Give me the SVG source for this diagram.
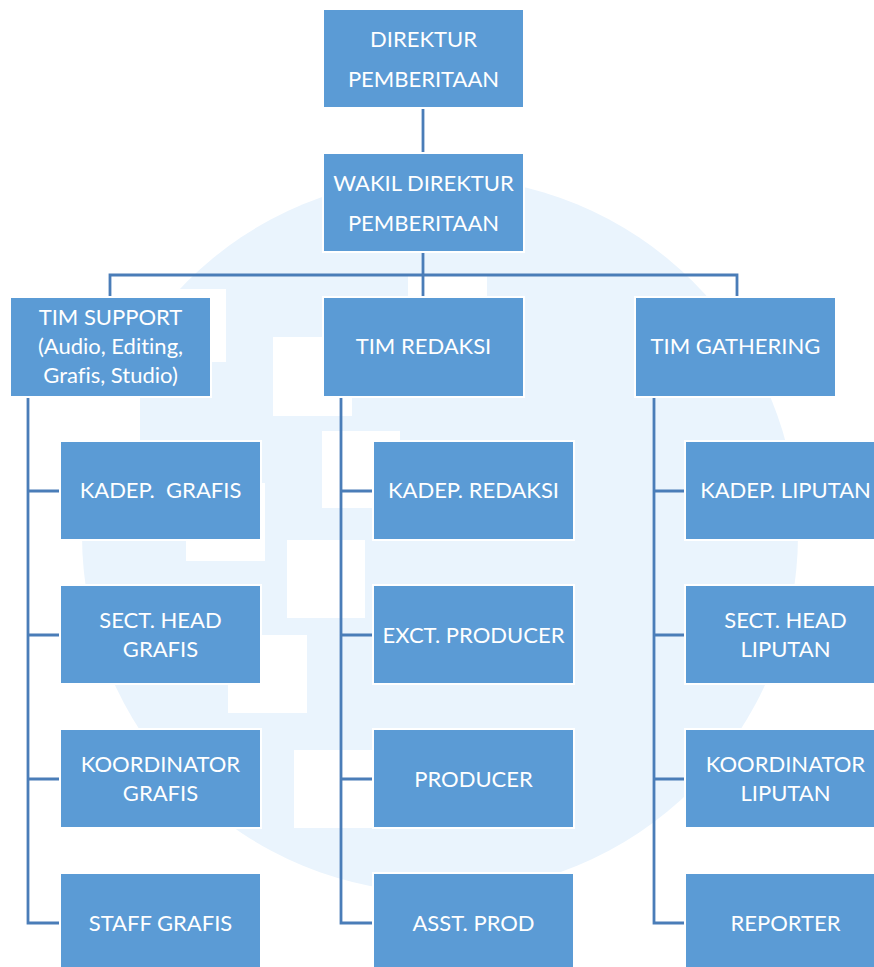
<svg xmlns="http://www.w3.org/2000/svg" width="874" height="967" viewBox="0 0 874 967">
<defs>
<style>
.bg{fill:#eaf4fd}
.wb{fill:#ffffff}
.box{fill:#5b9bd5;stroke:#ffffff;stroke-width:2}
.t{font-family:Lato,"Liberation Sans",sans-serif;font-size:22px;fill:#ffffff;text-anchor:middle;white-space:pre;font-variant-ligatures:none}
.c{fill:none;stroke:#4a7db8;stroke-width:2.8}
</style>
</defs>
<rect width="874" height="967" fill="#ffffff"/>
<g id="watermark">
<circle class="bg" cx="440" cy="535" r="358"/>
<rect class="wb" x="148" y="289" width="78" height="73"/>
<rect class="wb" x="62" y="362" width="78" height="78"/>
<rect class="wb" x="273" y="337" width="79" height="79"/>
<rect class="wb" x="408" y="274" width="79" height="78"/>
<rect class="wb" x="322" y="431" width="78" height="77"/>
<rect class="wb" x="186" y="483" width="79" height="78"/>
<rect class="wb" x="287" y="540" width="78" height="78"/>
<rect class="wb" x="228" y="635" width="79" height="78"/>
<rect class="wb" x="294" y="750" width="78" height="78"/>
</g>
<g id="connectors">
<path class="c" d="M423 108V153"/>
<path class="c" d="M423 252V297"/>
<path class="c" d="M110 297V275H737V297"/>
<path class="c" d="M28 397V923H60M28 491H60M28 635H60M28 779H60"/>
<path class="c" d="M341 397V923H373M341 491H373M341 635H373M341 779H373"/>
<path class="c" d="M654 397V923H685M654 491H685M654 635H685M654 779H685"/>
</g>
<g id="direktur"><rect class="box" x="323" y="9" width="201" height="99"/><text class="t" x="423.5" y="47">DIREKTUR</text><text class="t" x="423.5" y="87">PEMBERITAAN</text></g>
<g id="wakil"><rect class="box" x="323" y="153" width="201" height="99"/><text class="t" x="423.5" y="191">WAKIL DIREKTUR</text><text class="t" x="423.5" y="231">PEMBERITAAN</text></g>
<g id="tim-support"><rect class="box" x="10" y="297" width="201" height="100"/><text class="t" x="110.5" y="325">TIM SUPPORT</text><text class="t" x="110.5" y="354">(Audio, Editing,</text><text class="t" x="110.5" y="383">Grafis, Studio)</text></g>
<g id="tim-redaksi"><rect class="box" x="323" y="297" width="201" height="100"/><text class="t" x="423.5" y="354">TIM REDAKSI</text></g>
<g id="tim-gathering"><rect class="box" x="635" y="297" width="201" height="100"/><text class="t" x="735.5" y="354">TIM GATHERING</text></g>
<g id="kadep-grafis"><rect class="box" x="60" y="441" width="201" height="99"/><text class="t" x="160.5" y="498">KADEP.  GRAFIS</text></g>
<g id="sect-head-grafis"><rect class="box" x="60" y="585" width="201" height="99"/><text class="t" x="160.5" y="628">SECT. HEAD</text><text class="t" x="160.5" y="657">GRAFIS</text></g>
<g id="koordinator-grafis"><rect class="box" x="60" y="729" width="201" height="99"/><text class="t" x="160.5" y="772">KOORDINATOR</text><text class="t" x="160.5" y="801">GRAFIS</text></g>
<g id="staff-grafis"><rect class="box" x="60" y="873" width="201" height="99"/><text class="t" x="160.5" y="931">STAFF GRAFIS</text></g>
<g id="kadep-redaksi"><rect class="box" x="373" y="441" width="201" height="99"/><text class="t" x="473.5" y="498">KADEP. REDAKSI</text></g>
<g id="exct-producer"><rect class="box" x="373" y="585" width="201" height="99"/><text class="t" x="473.5" y="643">EXCT. PRODUCER</text></g>
<g id="producer"><rect class="box" x="373" y="729" width="201" height="99"/><text class="t" x="473.5" y="787">PRODUCER</text></g>
<g id="asst-prod"><rect class="box" x="373" y="873" width="201" height="99"/><text class="t" x="473.5" y="931">ASST. PROD</text></g>
<g id="kadep-liputan"><rect class="box" x="685" y="441" width="201" height="99"/><text class="t" x="785.5" y="498">KADEP. LIPUTAN</text></g>
<g id="sect-head-liputan"><rect class="box" x="685" y="585" width="201" height="99"/><text class="t" x="785.5" y="628">SECT. HEAD</text><text class="t" x="785.5" y="657">LIPUTAN</text></g>
<g id="koordinator-liputan"><rect class="box" x="685" y="729" width="201" height="99"/><text class="t" x="785.5" y="772">KOORDINATOR</text><text class="t" x="785.5" y="801">LIPUTAN</text></g>
<g id="reporter"><rect class="box" x="685" y="873" width="201" height="99"/><text class="t" x="785.5" y="931">REPORTER</text></g>
</svg>
